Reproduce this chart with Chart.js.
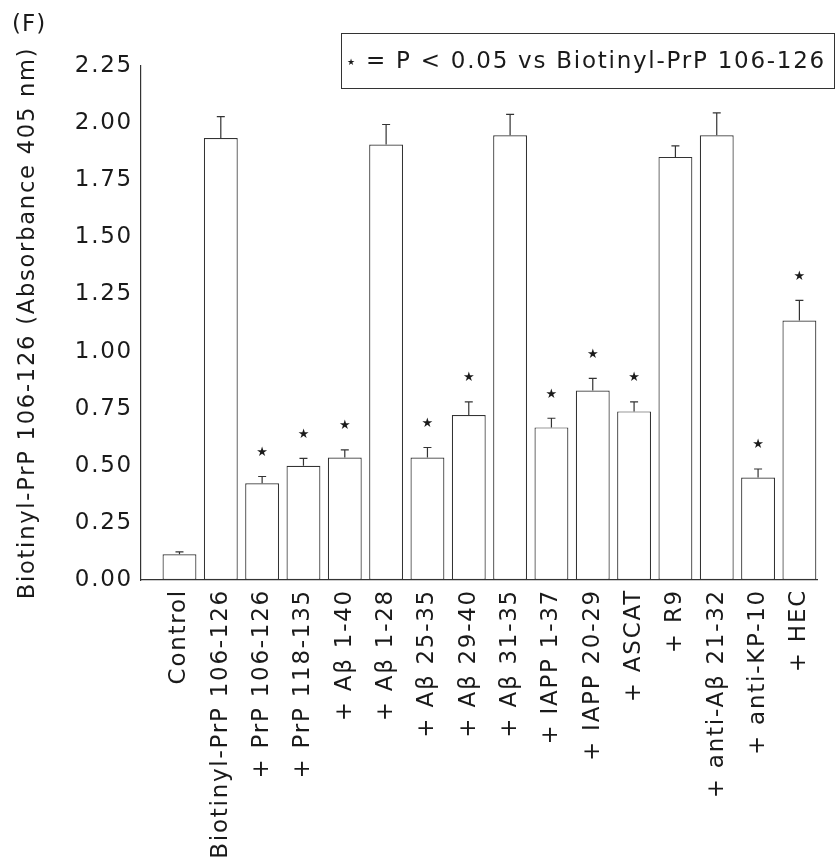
<!DOCTYPE html>
<html>
<head>
<meta charset="utf-8">
<script src="https://cdn.jsdelivr.net/npm/chart.js@4.4.0/dist/chart.umd.min.js"></script>
<style>
html,body{margin:0;padding:0;background:#fff;}
#wrap{position:relative;width:836px;height:864px;}
</style>
</head>
<body>
<div id="wrap"><canvas id="c" width="836" height="864"></canvas></div>
<script>
const categories = ['Control', 'Biotinyl-PrP 106-126', '+ PrP 106-126', '+ PrP 118-135', '+ Aβ 1-40', '+ Aβ 1-28', '+ Aβ 25-35', '+ Aβ 29-40', '+ Aβ 31-35', '+ IAPP 1-37', '+ IAPP 20-29', '+ ASCAT', '+ R9', '+ anti-Aβ 21-32', '+ anti-KP-10', '+ HEC'];
const values = [0.113, 1.935, 0.423, 0.500, 0.536, 1.906, 0.536, 0.722, 1.947, 0.668, 0.829, 0.738, 1.852, 1.947, 0.449, 1.136];
const errors = [0.010, 0.093, 0.030, 0.032, 0.034, 0.088, 0.044, 0.058, 0.091, 0.040, 0.054, 0.042, 0.048, 0.098, 0.037, 0.088];
const significant = [0, 0, 1, 1, 1, 0, 1, 1, 0, 1, 1, 1, 0, 0, 1, 1];
const yTicks = [0, 0.25, 0.5, 0.75, 1.0, 1.25, 1.5, 1.75, 2.0, 2.25];
const yTitle = 'Biotinyl-PrP 106-126 (Absorbance 405 nm)';
const legendStar = '★';
const legendText = '= P < 0.05 vs Biotinyl-PrP 106-126';
const panelLabel = '(F)';

const FONT = 'DejaVu Sans';
const LS = '1.75px';
const INK = '#1a1a1a';
const LINE = '#333';

Chart.defaults.font.family = FONT;
Chart.defaults.font.size = 23;
Chart.defaults.color = INK;

const spacingPlugin = {
  id: 'spacing',
  beforeInit(chart) { chart.ctx.letterSpacing = LS; },
  beforeUpdate(chart) { chart.ctx.letterSpacing = LS; },
  beforeLayout(chart) { chart.ctx.letterSpacing = LS; },
  beforeDraw(chart) {
    const ctx = chart.ctx;
    ctx.letterSpacing = LS;
    ctx.save();
    ctx.fillStyle = '#fff';
    ctx.fillRect(0, 0, chart.width, chart.height);
    ctx.restore();
  }
};

const errorPlugin = {
  id: 'errors',
  afterDatasetsDraw(chart) {
    const ctx = chart.ctx;
    const ys = chart.scales.y;
    const meta = chart.getDatasetMeta(0);
    ctx.save();
    ctx.strokeStyle = LINE;
    ctx.lineWidth = 1.2;
    meta.data.forEach((bar, i) => {
      const x = bar.x;
      const top = bar.y;
      const ye = ys.getPixelForValue(values[i] + errors[i]);
      ctx.beginPath();
      ctx.moveTo(x, top);
      ctx.lineTo(x, ye);
      ctx.moveTo(x - 4, ye);
      ctx.lineTo(x + 4, ye);
      ctx.stroke();
      if (significant[i]) {
        ctx.fillStyle = INK;
        ctx.font = '13px ' + FONT;
        ctx.letterSpacing = '0px';
        ctx.textAlign = 'center';
        ctx.textBaseline = 'middle';
        ctx.fillText(legendStar, x, ye - 24);
      }
    });
    ctx.restore();
  }
};

const annotPlugin = {
  id: 'annot',
  afterDraw(chart) {
    const ctx = chart.ctx;
    ctx.save();
    ctx.strokeStyle = LINE;
    ctx.lineWidth = 1;
    ctx.strokeRect(341.5, 33.5, 493, 55);
    ctx.fillStyle = INK;
    ctx.textBaseline = 'middle';
    ctx.textAlign = 'center';
    ctx.letterSpacing = '0px';
    ctx.font = '9px ' + FONT;
    ctx.fillText(legendStar, 351, 63);
    ctx.letterSpacing = LS;
    ctx.textAlign = 'left';
    ctx.font = '23px ' + FONT;
    ctx.fillText(legendText, 366, 62);
    ctx.letterSpacing = '1px';
    ctx.font = '23px ' + FONT;
    ctx.fillText(panelLabel, 12, 25);
    ctx.restore();
  }
};

new Chart(document.getElementById('c'), {
  type: 'bar',
  data: {
    datasets: [{
      data: values.map((v, i) => ({ x: i, y: v })),
      backgroundColor: '#ffffff',
      borderColor: LINE,
      borderWidth: 1.2,
      borderSkipped: false,
      barPercentage: 0.82,
      categoryPercentage: 1.0
    }]
  },
  options: {
    responsive: false,
    animation: false,
    devicePixelRatio: 1,
    layout: { padding: { top: 66, left: 0, right: 0, bottom: 0 } },
    plugins: { legend: { display: false }, tooltip: { enabled: false } },
    scales: {
      x: {
        type: 'linear',
        offset: false,
        min: -0.931,
        max: 15.448,
        grid: { display: false, drawTicks: false },
        border: { display: true, color: LINE, width: 1.2 },
        afterBuildTicks: (s) => { s.ticks = categories.map((c, i) => ({ value: i })); },
        ticks: {
          autoSkip: false,
          minRotation: 90,
          maxRotation: 90,
          padding: 9,
          callback: (v) => categories[Math.round(v)]
        },
        afterFit: (s) => { s.height = 284; }
      },
      y: {
        min: 0,
        max: 2.25,
        grid: { display: false, drawTicks: false },
        border: { display: true, color: LINE, width: 1.2 },
        afterBuildTicks: (s) => { s.ticks = yTicks.map(v => ({ value: v })); },
        ticks: { padding: 8, callback: (v) => Number(v).toFixed(2) },
        title: { display: true, text: yTitle, font: { size: 22.6 }, padding: { top: 15, bottom: 0 } },
        afterFit: (s) => { s.width = 141; }
      }
    }
  },
  plugins: [spacingPlugin, errorPlugin, annotPlugin]
});
</script>
</body>
</html>
